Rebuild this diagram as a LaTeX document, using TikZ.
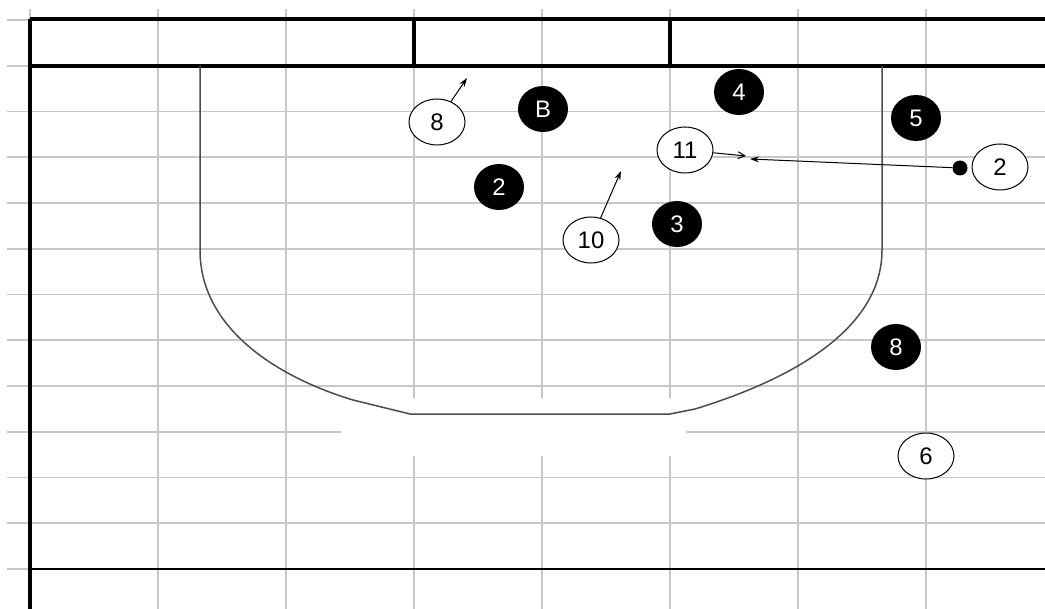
\documentclass[tikz,border=0pt]{standalone}
\usepackage{fontspec}
\setmainfont{Liberation Sans}
\usetikzlibrary{arrows.meta,positioning,shapes.geometric}

\begin{document}
\begin{tikzpicture}[x=1bp, y=-1bp,
  gridline/.style={draw=black!22, line width=1.6bp},
  courtline/.style={draw=black, line width=3.5bp},
  laneline/.style={draw=black!70, line width=1.5bp},
  offp/.style={draw, ellipse, fill=white, line width=1bp, minimum width=56bp,
               minimum height=46bp, inner sep=0pt, font=\fontsize{24}{26}\selectfont},
  defp/.style={ellipse, fill=black, text=white, minimum width=50bp,
               minimum height=46bp, inner sep=0pt, font=\fontsize{24}{26}\selectfont},
  arrow/.style={-{Stealth[length=9bp, width=6bp]}, line width=1bp}
]
\useasboundingbox (0,0) rectangle (1045,609);
% grid
\foreach \x in {30,158,...,926} \draw[gridline] (\x,9) -- (\x,609);
\foreach \i in {0,...,12} \draw[gridline] (7,{20+45.75*\i}) -- (1045,{20+45.75*\i});
\fill[white] (341,398) rectangle (686,456);
% court
\draw[courtline] (30,19) -- (1045,19);
\draw[courtline] (30,66) -- (1045,66);
\draw[courtline] (30,19) -- (30,609);
\draw[courtline] (414,19) -- (414,66);
\draw[courtline] (670,19) -- (670,66);
\draw[line width=2bp] (30,569) -- (1045,569);
\draw[laneline] (200,66) -- (200,250) .. controls (200,330) and (280,378) .. (353,400)
  -- (410,414) -- (670,414) -- (695,409) .. controls (790,380) and (882,330) .. (882,250) -- (882,66);
% players
\node[offp] (w8) at (437,122) {8};
\node[defp] (bB) at (543,109) {B};
\node[defp] (b4) at (739,92) {4};
\node[defp] (b5) at (916,118) {5};
\node[offp] (w11) at (685,150) {11};
\node[defp] (b2) at (499,187) {2};
\node[defp] (b3) at (677,224) {3};
\node[offp] (w10) at (591,240) {10};
\node[offp] (w2) at (1000,167) {2};
\node[defp] (b8) at (896,347) {8};
\node[offp] (w6) at (926,456) {6};
\node[circle, fill=black, minimum size=15bp, inner sep=0pt] (ball) at (960,168) {};
% movement
\coordinate (w8run) at (467,78);
\coordinate (w10run) at (621,171);
\coordinate (w11run) at (746,156);
\coordinate (passend) at (750,159);
\draw[arrow] (w8) -- (w8run);
\draw[arrow] (w10) -- (w10run);
\draw[-{Straight Barb[length=7bp, width=7bp]}, line width=1bp] (w11) -- (w11run);
\draw[arrow] (ball) -- (passend);
\end{tikzpicture}
\end{document}
